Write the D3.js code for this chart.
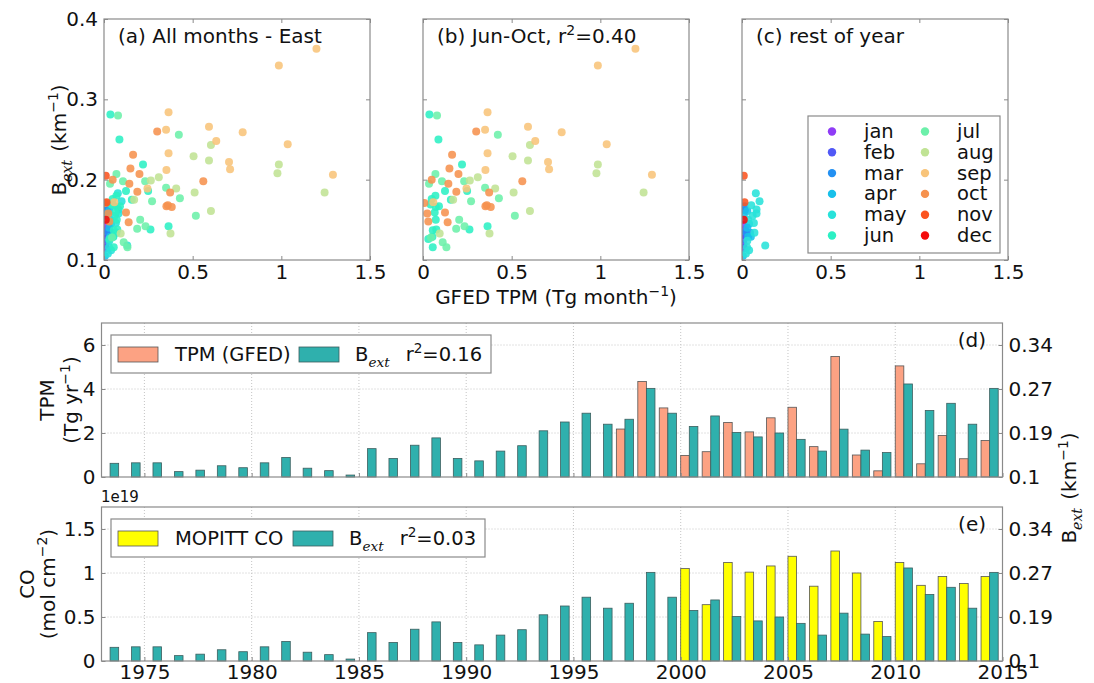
<!DOCTYPE html>
<html lang="en">
<head>
  <meta charset="UTF-8" />
  <title>Bext vs GFED TPM and MOPITT CO</title>
  <style>
    body {
      margin: 0;
      background: #fff;
      font-family: "DejaVu Sans", sans-serif;
    }
    svg { display: block; }
    text { fill: #111; }
  </style>
</head>
<body>

  <div id="chart"></div>

  <script src="https://d3js.org/d3.v7.min.js"></script>

  <script>
    // ---- data ----
    const months = ["jan", "feb", "mar", "apr", "may", "jun", "jul", "aug", "sep", "oct", "nov", "dec"];
    const monthColors = ["#8f3cf6", "#5158f6", "#2390f2", "#18c0ea", "#28e2da", "#2cf0c4",
                         "#6cf0aa", "#c0e394", "#f8c47a", "#f6924e", "#fb5420", "#f40c0c"];

    // monthly points: GFED TPM (Tg month-1), Bext (km-1), month index
    const scatterTPM = [
      1.198, 0.986, 0.364, 0.036, 0.079, 0.350, 0.300, 0.592, 0.782, 0.422,
      0.087, 0.633, 1.036, 0.603, 0.364, 0.164, 0.505, 0.592, 0.705, 0.220,
      0.986, 0.711, 0.149, 0.352, 0.070, 0.200, 0.978, 1.291, 0.309, 0.049,
      0.107, 0.232, 0.264, 0.034, 0.143, 0.560, 0.350, 0.407, 0.245, 0.249,
      0.124, 0.188, 0.373, 0.511, 1.244, 0.070, 0.428, 0.049, 0.157, 0.170,
      0.058, 0.271, 0.008, 0.043, 0.090, 0.072, 0.360, 0.382, 0.352, 0.024,
      0.124, 0.066, 0.603, 0.518, 0.030, 0.072, 0.139, 0.204, 0.187, 0.234,
      0.262, 0.364, 0.055, 0.075, 0.094, 0.375, 0.045, 0.053, 0.111, 0.132,
      0.055, 0.030,
      0.010, 0.078, 0.099, 0.014, 0.052, 0.082, 0.014, 0.030, 0.082, 0.010,
      0.035, 0.067, 0.010, 0.030, 0.070, 0.045, 0.010, 0.035, 0.010, 0.030,
      0.131, 0.028, 0.010, 0.022, 0.010, 0.018, 0.050, 0.016, 0.005, 0.040,
      0.060, 0.020, 0.008, 0.040
    ];
    const scatterBext = [
      0.363, 0.342, 0.284, 0.281, 0.280, 0.262, 0.260, 0.266, 0.259, 0.256,
      0.250, 0.248, 0.244, 0.243, 0.233, 0.231, 0.229, 0.224, 0.222, 0.219,
      0.219, 0.213, 0.214, 0.212, 0.207, 0.207, 0.208, 0.206, 0.203, 0.200,
      0.198, 0.198, 0.199, 0.195, 0.195, 0.198, 0.190, 0.189, 0.189, 0.186,
      0.186, 0.185, 0.184, 0.184, 0.184, 0.180, 0.177, 0.176, 0.175, 0.175,
      0.172, 0.173, 0.171, 0.169, 0.167, 0.166, 0.168, 0.166, 0.167, 0.158,
      0.159, 0.159, 0.161, 0.155, 0.148, 0.150, 0.147, 0.150, 0.139, 0.142,
      0.138, 0.142, 0.137, 0.138, 0.133, 0.133, 0.128, 0.129, 0.122, 0.116,
      0.116, 0.126,
      0.205, 0.183, 0.173, 0.172, 0.168, 0.163, 0.167, 0.161, 0.158, 0.150,
      0.150, 0.146, 0.144, 0.140, 0.134, 0.134, 0.131, 0.129, 0.126, 0.124,
      0.118, 0.116, 0.115, 0.108, 0.155, 0.138, 0.129, 0.162, 0.105, 0.145,
      0.155, 0.135, 0.120, 0.112
    ];
    const scatterMonth = [
      8, 8, 8, 5, 6, 8, 9, 8, 8, 6,
      5, 8, 8, 7, 8, 9, 7, 7, 8, 5,
      7, 8, 9, 8, 6, 9, 7, 8, 7, 9,
      6, 6, 7, 6, 9, 9, 6, 7, 8, 5,
      5, 9, 9, 7, 7, 5, 6, 5, 5, 7,
      8, 6, 9, 5, 5, 5, 9, 9, 9, 9,
      9, 5, 7, 6, 9, 5, 9, 6, 6, 6,
      5, 5, 5, 5, 7, 7, 6, 5, 6, 6,
      5, 5,
      10, 4, 4, 10, 4, 4, 2, 3, 4, 11,
      4, 4, 0, 3, 4, 2, 1, 3, 1, 4,
      4, 4, 1, 4, 3, 0, 3, 2, 3, 3,
      4, 2, 1, 4
    ];
    const scatterXTicks = [0, 0.5, 1, 1.5];
    const scatterYTicks = [0.1, 0.2, 0.3, 0.4];

    // annual series
    const bextYears = [1973, 1974, 1975, 1976, 1977, 1978, 1979, 1980, 1981, 1982, 1983, 1984,
                       1985, 1986, 1987, 1988, 1989, 1990, 1991, 1992, 1993, 1994, 1995, 1996,
                       1997, 1998, 1999, 2000, 2001, 2002, 2003, 2004, 2005, 2006, 2007, 2008,
                       2009, 2010, 2011, 2012, 2013, 2014];
    const bextValues = [0.128, 0.129, 0.129, 0.111, 0.114, 0.123, 0.119, 0.129, 0.140, 0.118, 0.113, 0.104,
                        0.158, 0.138, 0.165, 0.180, 0.138, 0.133, 0.153, 0.164, 0.194, 0.210, 0.226, 0.206,
                        0.215, 0.271, 0.226, 0.202, 0.221, 0.191, 0.182, 0.190, 0.177, 0.153, 0.197, 0.155,
                        0.150, 0.278, 0.231, 0.244, 0.206, 0.271];
    const tpmYears = [1997, 1998, 1999, 2000, 2001, 2002, 2003, 2004, 2005, 2006, 2007, 2008,
                      2009, 2010, 2011, 2012, 2013, 2014];
    const tpmValues = [2.18, 4.34, 3.14, 0.98, 1.15, 2.48, 2.05, 2.69, 3.17, 1.38, 5.48, 1.00,
                       0.28, 5.05, 0.60, 1.89, 0.83, 1.66];
    const coYears = [2000, 2001, 2002, 2003, 2004, 2005, 2006, 2007, 2008, 2009, 2010, 2011,
                     2012, 2013, 2014];
    const coValues = [1.05, 0.64, 1.12, 1.01, 1.08, 1.19, 0.85, 1.25, 1.00, 0.45, 1.12, 0.86,
                      0.96, 0.88, 0.96]; // x 1e19 mol cm-2
    const yearTicks = [1975, 1980, 1985, 1990, 1995, 2000, 2005, 2010, 2015];
    const tpmTicks = [0, 2, 4, 6];
    const coTicks = [0, 0.5, 1, 1.5];
    const bextTicks = [0.1, 0.19, 0.27, 0.34];

    // ---- setup ----
    const svg = d3.select("#chart")
      .append("svg")
      .attr("width", 1094)
      .attr("height", 683);

    const frameColor = "#8a8a8a";
    const fontSize = 20;

    // writes text made of plain / sub / sup pieces
    function richText(sel, parts, size) {
      let shift = 0;
      parts.forEach(p => {
        const s = p.sub ? 0.3 * size : p.sup ? -0.42 * size : 0;
        const t = sel.append("tspan")
          .attr("dy", s - shift)
          .style("font-size", (p.sub || p.sup ? size * 0.7 : size) + "px")
          .text(p.t);
        if (p.italic) t.style("font-style", "italic").style("font-family", "DejaVu Serif, serif");
        if (p.dx) t.attr("dx", p.dx);
        shift = s;
      });
      return sel;
    }

    const bextLabel = [{ t: "B" }, { t: "ext", sub: true, italic: true }, { t: " (km", dx: 2 }, { t: "\u22121", sup: true }, { t: ")" }];

    // ---- scatter panels ----
    const sc = { top: 19, width: 266, height: 241 };

    function createScatter(left, titleParts, keep, showY, withLegend) {
      const g = svg.append("g").attr("transform", `translate(${left},${sc.top})`);
      const clipId = "clip" + left;
      g.append("clipPath").attr("id", clipId)
        .append("rect").attr("width", sc.width).attr("height", sc.height);

      const x = d3.scaleLinear().domain([0, 1.5]).range([0, sc.width]);
      const y = d3.scaleLinear().domain([0.1, 0.4]).range([sc.height, 0]);

      // points, drawn month by month
      const idx = d3.range(scatterTPM.length)
        .filter(i => keep(scatterMonth[i]))
        .sort((a, b) => scatterMonth[a] - scatterMonth[b] || a - b);

      g.append("g")
        .attr("clip-path", `url(#${clipId})`)
        .selectAll("circle")
        .data(idx)
        .join("circle")
        .attr("cx", i => x(scatterTPM[i]))
        .attr("cy", i => y(scatterBext[i]))
        .attr("r", 4)
        .attr("fill", i => monthColors[scatterMonth[i]])
        .attr("fill-opacity", 0.88);

      // ticks (inward, all sides)
      const fmt = d3.format("~g");
      g.append("g").attr("transform", `translate(0,${sc.height})`)
        .call(d3.axisBottom(x).tickValues(scatterXTicks).tickFormat(fmt).tickSizeInner(-4).tickSizeOuter(0).tickPadding(5));
      g.append("g").call(d3.axisTop(x).tickValues(scatterXTicks).tickFormat("").tickSizeInner(-4).tickSizeOuter(0));
      g.append("g")
        .call(d3.axisLeft(y).tickValues(scatterYTicks).tickFormat(showY ? fmt : "").tickSizeInner(-4).tickSizeOuter(0).tickPadding(6));
      g.append("g").attr("transform", `translate(${sc.width},0)`)
        .call(d3.axisRight(y).tickValues(scatterYTicks).tickFormat("").tickSizeInner(-4).tickSizeOuter(0));

      g.selectAll(".domain").remove();
      g.selectAll(".tick line").attr("stroke", frameColor);
      g.selectAll(".tick text").style("font-size", fontSize + "px").style("font-family", "DejaVu Sans").attr("fill", "#111");

      g.append("rect")
        .attr("width", sc.width).attr("height", sc.height)
        .attr("fill", "none").attr("stroke", frameColor).attr("stroke-width", 1.2);

      richText(g.append("text").attr("x", 14).attr("y", 24), titleParts, 20);

      if (withLegend) {
        const lg = g.append("g").attr("transform", `translate(${808 - left},${116 - sc.top})`);
        lg.append("rect").attr("width", 192).attr("height", 137)
          .attr("fill", "#fff").attr("stroke", frameColor).attr("stroke-width", 1.2);
        const items = lg.selectAll("g.item")
          .data(months)
          .join("g")
          .attr("class", "item")
          .attr("transform", (d, i) => `translate(${i < 6 ? 24 : 117},${15.5 + (i % 6) * 20.8})`);
        items.append("circle").attr("r", 4.2).attr("fill", (d, i) => monthColors[i]);
        items.append("text").attr("x", 32).attr("y", 6.5)
          .style("font-size", "19.5px")
          .text(d => d);
      }
    }

    createScatter(104, [{ t: "(a) All months - East" }], m => true, true, false);
    createScatter(423, [{ t: "(b) Jun-Oct, r" }, { t: "2", sup: true }, { t: "=0.40" }], m => m >= 5 && m <= 9, false, false);
    createScatter(742, [{ t: "(c) rest of year" }], m => m < 5 || m > 9, false, true);

    // scatter axis labels
    richText(svg.append("text")
      .attr("transform", "translate(66,140) rotate(-90)")
      .attr("text-anchor", "middle"), bextLabel, 20);

    richText(svg.append("text")
      .attr("x", 556).attr("y", 304)
      .attr("text-anchor", "middle"),
      [{ t: "GFED TPM (Tg month" }, { t: "\u22121", sup: true }, { t: ")" }], 20);

    // ---- bar panels ----
    const bp = { left: 101.5, right: 1002.5, height: 154 };
    const xYear = d3.scaleLinear().domain([1973, 2015]).range([bp.left, bp.right]);
    const barW = xYear(1973.4) - xYear(1973);

    function createBarPanel(top, cfg) {
      const bottom = top + bp.height;
      const g = svg.append("g");
      const y = d3.scaleLinear().domain([0, cfg.max]).range([bottom, top]);
      // right axis shares the gridlines of the left ticks
      const yR = d3.scaleLinear()
        .domain(bextTicks.concat([0.375]))
        .range(cfg.ticks.map(t => y(t)).concat([top]));

      // grid
      g.append("g").selectAll("line.gx")
        .data(yearTicks.slice(0, -1))
        .join("line")
        .attr("x1", d => xYear(d)).attr("x2", d => xYear(d))
        .attr("y1", top).attr("y2", bottom)
        .attr("stroke", "#c4c4c4").attr("stroke-dasharray", "1,2");
      g.append("g").selectAll("line.gy")
        .data(cfg.ticks.slice(1))
        .join("line")
        .attr("x1", bp.left).attr("x2", bp.right)
        .attr("y1", d => y(d)).attr("y2", d => y(d))
        .attr("stroke", "#c4c4c4").attr("stroke-dasharray", "1,2");

      // primary bars
      g.append("g").selectAll("rect")
        .data(cfg.years)
        .join("rect")
        .attr("x", d => xYear(d))
        .attr("y", (d, i) => y(cfg.values[i]))
        .attr("width", barW)
        .attr("height", (d, i) => bottom - y(cfg.values[i]))
        .attr("fill", cfg.color)
        .attr("stroke", "#555").attr("stroke-width", 0.8);

      // Bext bars
      g.append("g").selectAll("rect")
        .data(bextYears)
        .join("rect")
        .attr("x", d => xYear(d + 0.4))
        .attr("y", (d, i) => yR(bextValues[i]))
        .attr("width", barW)
        .attr("height", (d, i) => bottom - yR(bextValues[i]))
        .attr("fill", "#2fb0ad")
        .attr("stroke", "#3d5e5e").attr("stroke-width", 0.8);

      // axes
      g.append("g").attr("transform", `translate(0,${bottom})`)
        .call(d3.axisBottom(xYear).tickValues(yearTicks).tickFormat(cfg.showYears ? d3.format("d") : "")
          .tickSizeInner(-4).tickSizeOuter(0).tickPadding(4));
      g.append("g").attr("transform", `translate(${bp.left},0)`)
        .call(d3.axisLeft(y).tickValues(cfg.ticks).tickFormat(d3.format("~g")).tickSizeInner(-4).tickSizeOuter(0).tickPadding(6));
      g.append("g").attr("transform", `translate(${bp.right},0)`)
        .call(d3.axisRight(yR).tickValues(bextTicks).tickFormat(d3.format("~g")).tickSizeInner(-4).tickSizeOuter(0).tickPadding(6));

      g.selectAll(".domain").remove();
      g.selectAll(".tick line").attr("stroke", frameColor);
      g.selectAll(".tick text").style("font-size", fontSize + "px").style("font-family", "DejaVu Sans").attr("fill", "#111");

      g.append("rect")
        .attr("x", bp.left).attr("y", top)
        .attr("width", bp.right - bp.left).attr("height", bp.height)
        .attr("fill", "none").attr("stroke", frameColor).attr("stroke-width", 1.2);

      // panel letter
      g.append("text").attr("x", 986).attr("y", top + 24)
        .attr("text-anchor", "end").style("font-size", "20px").text(cfg.letter);

      // left label, two lines
      g.append("text")
        .attr("transform", `translate(${cfg.labelX[0]},${top + bp.height / 2}) rotate(-90)`)
        .attr("text-anchor", "middle").style("font-size", "20px").text(cfg.label1);
      richText(g.append("text")
        .attr("transform", `translate(${cfg.labelX[1]},${top + bp.height / 2}) rotate(-90)`)
        .attr("text-anchor", "middle"), cfg.label2, 20);

      // legend
      const lg = g.append("g").attr("transform", `translate(111,${top + 12})`);
      lg.append("rect").attr("width", cfg.legendW).attr("height", 38)
        .attr("fill", "#fff").attr("stroke", frameColor).attr("stroke-width", 1.2);
      lg.append("rect").attr("x", 7).attr("y", 12).attr("width", 40).attr("height", 15)
        .attr("fill", cfg.color).attr("stroke", "#555").attr("stroke-width", 0.8);
      lg.append("text").attr("x", 64).attr("y", 26).style("font-size", "19.5px").text(cfg.legendText);
      lg.append("rect").attr("x", cfg.tealX).attr("y", 12).attr("width", 40).attr("height", 15)
        .attr("fill", "#2fb0ad").attr("stroke", "#3d5e5e").attr("stroke-width", 0.8);
      richText(lg.append("text").attr("x", cfg.tealX + 56).attr("y", 26),
        [{ t: "B" }, { t: "ext", sub: true, italic: true }, { t: "r", dx: 16 }, { t: "2", sup: true }, { t: "=" + cfg.r2 }], 19.5);

      return g;
    }

    createBarPanel(323, {
      years: tpmYears, values: tpmValues, color: "#fca283", max: 7, ticks: tpmTicks,
      letter: "(d)", showYears: false, labelX: [54, 78],
      label1: "TPM", label2: [{ t: "(Tg yr" }, { t: "\u22121", sup: true }, { t: ")" }],
      legendText: "TPM (GFED)", tealX: 188, legendW: 380, r2: "0.16"
    });

    createBarPanel(507, {
      years: coYears, values: coValues, color: "#ffff00", max: 1.75, ticks: coTicks,
      letter: "(e)", showYears: true, labelX: [34, 55],
      label1: "CO", label2: [{ t: "(mol cm" }, { t: "\u22122", sup: true }, { t: ")" }],
      legendText: "MOPITT CO", tealX: 182, legendW: 374, r2: "0.03"
    });

    // offset text of the CO axis
    svg.append("text").attr("x", 101).attr("y", 502).style("font-size", "15px").text("1e19");

    // shared right label
    richText(svg.append("text")
      .attr("transform", "translate(1076,488) rotate(-90)")
      .attr("text-anchor", "middle"), bextLabel, 20);
  </script>
</body>
</html>
